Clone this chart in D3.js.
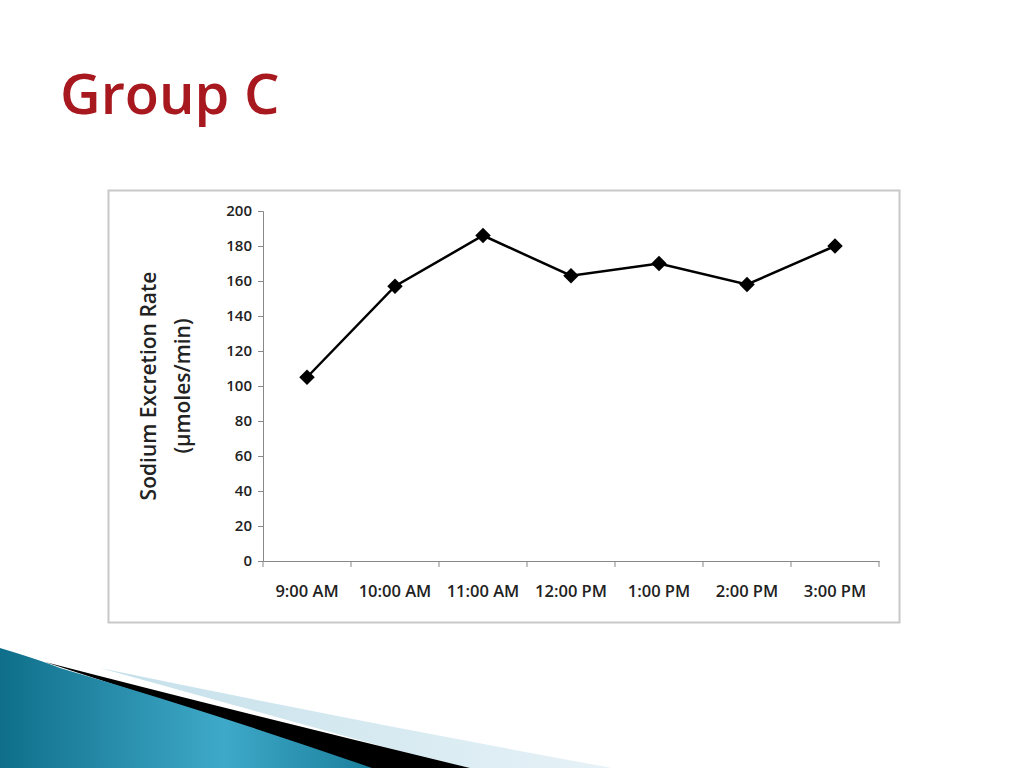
<!DOCTYPE html>
<html><head><meta charset="utf-8">
<script src="https://cdn.jsdelivr.net/npm/d3@7"></script>
<style>body{margin:0;background:#fff}svg{display:block}</style>
</head><body>
<svg id="c" width="1024" height="768"></svg>
<script>
const categories = ["9:00 AM","10:00 AM","11:00 AM","12:00 PM","1:00 PM","2:00 PM","3:00 PM"];
const values = [105,157,186,163,170,158,180];
const yTicks = [0,20,40,60,80,100,120,140,160,180,200];

const svg = d3.select("#c");
const defs = svg.append("defs");
const g1 = defs.append("linearGradient").attr("id","teal").attr("x1","0").attr("y1","0").attr("x2","1").attr("y2","0");
g1.append("stop").attr("offset","0").attr("stop-color","#0f6f8a");
g1.append("stop").attr("offset","0.6").attr("stop-color","#3fa9c9");
g1.append("stop").attr("offset","1").attr("stop-color","#1a7f9c");
const g2 = defs.append("linearGradient").attr("id","lb").attr("x1","0").attr("y1","0").attr("x2","1").attr("y2","0");
g2.append("stop").attr("offset","0").attr("stop-color","#c5e0ea");
g2.append("stop").attr("offset","1").attr("stop-color","#e6f2f7");

svg.append("path").attr("d","M100,668 Q350,720 612,768 L460,768 Z").attr("fill","url(#lb)");
svg.append("path").attr("d","M45,662 Q250,715 470,768 L370,768 Z").attr("fill","#000");
svg.append("path").attr("d","M0,648 Q40,660 60,668 Q220,715 372,768 L0,768 Z").attr("fill","url(#teal)");

svg.append("text").attr("x",60).attr("y",114).text("Group C")
  .attr("font-family","'Open Sans', sans-serif").attr("font-weight","600")
  .attr("font-size",56).attr("fill","#a8181f");

svg.append("rect").attr("x",108.5).attr("y",190.5).attr("width",791).attr("height",432)
  .attr("fill","#fff").attr("stroke","#c8c8c8").attr("stroke-width",2);

const x = d3.scaleBand().domain(categories).range([263,879]);
const y = d3.scaleLinear().domain([0,200]).range([561,211]);
const font = "'Open Sans', 'Noto Sans', sans-serif";

const ya = svg.append("g").attr("transform","translate(263,0)")
  .call(d3.axisLeft(y).tickValues(yTicks).tickSize(5).tickPadding(6));
const xa = svg.append("g").attr("transform","translate(0,561)")
  .call(d3.axisBottom(x).tickSize(0).tickPadding(24));
[ya,xa].forEach(a=>{
  a.selectAll("path,line").attr("stroke","#888");
  a.selectAll("text").attr("font-family",font).attr("font-weight","600").attr("fill","#222");
});
ya.selectAll("text").attr("font-size",15);
xa.selectAll("text").attr("font-size",16.5);
svg.append("g").selectAll("line").data(categories.concat(["end"])).join("line")
  .attr("x1",(d,i)=>263+i*x.step()).attr("x2",(d,i)=>263+i*x.step())
  .attr("y1",561).attr("y2",567).attr("stroke","#888");

const cx = d=>x(d)+x.bandwidth()/2;
svg.append("path").datum(values)
  .attr("d",d3.line().x((d,i)=>cx(categories[i])).y(d=>y(d)))
  .attr("fill","none").attr("stroke","#000").attr("stroke-width",2.5);
svg.append("g").selectAll("rect").data(values).join("rect")
  .attr("x",-5.5).attr("y",-5.5).attr("width",11).attr("height",11)
  .attr("transform",(d,i)=>`translate(${cx(categories[i])},${y(d)}) rotate(45)`)
  .attr("fill","#000");

svg.append("text").attr("transform","translate(156,386) rotate(-90)").attr("text-anchor","middle")
  .attr("font-family",font).attr("font-weight","600").attr("font-size",21).attr("fill","#222")
  .text("Sodium Excretion Rate");
svg.append("text").attr("transform","translate(190,386) rotate(-90)").attr("text-anchor","middle")
  .attr("font-family",font).attr("font-weight","600").attr("font-size",21).attr("fill","#222")
  .text("(µmoles/min)");
</script>
</body></html>
